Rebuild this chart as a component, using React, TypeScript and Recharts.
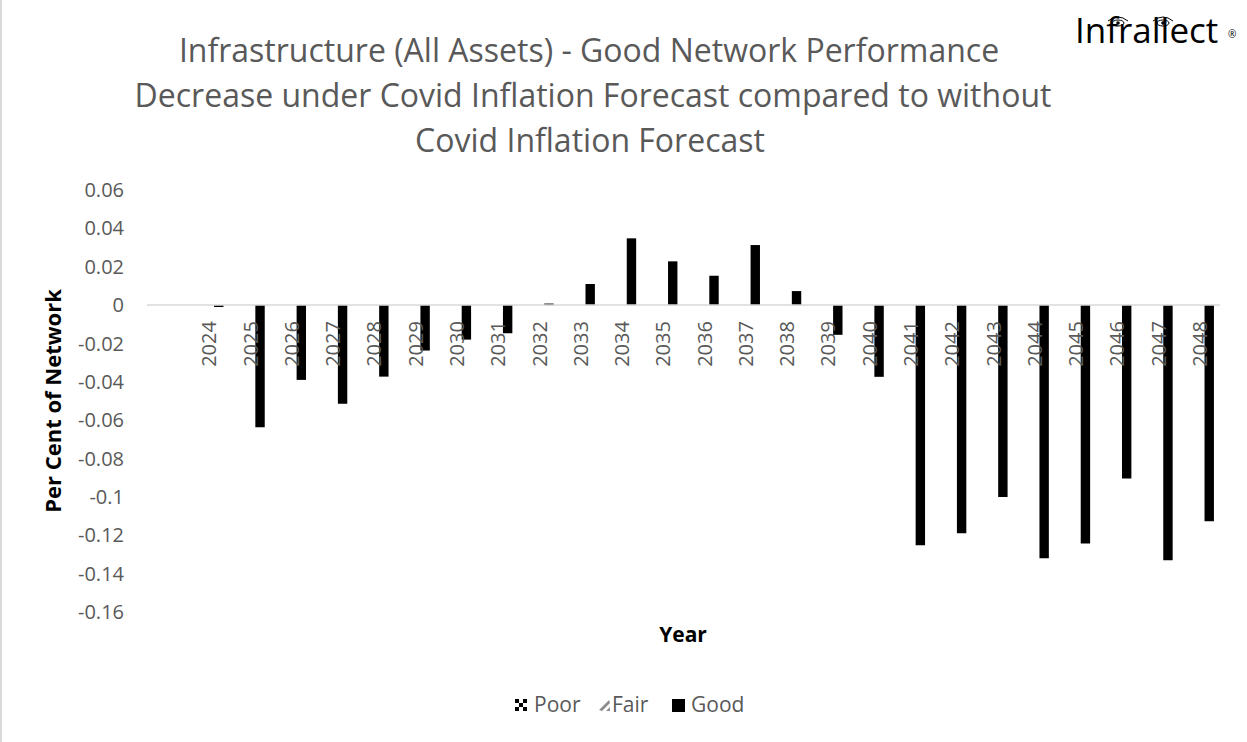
import React from 'react';
import { BarChart, Bar, XAxis, YAxis, ReferenceLine } from 'recharts';

const years = ['', '2024', '2025', '2026', '2027', '2028', '2029', '2030', '2031', '2032', '2033', '2034', '2035', '2036', '2037', '2038', '2039', '2040', '2041', '2042', '2043', '2044', '2045', '2046', '2047', '2048'];
const poor = [null, null, null, null, null, null, null, null, null, null, null, null, null, null, null, null, null, null, null, null, null, null, null, null, null, null];
const fair = [null, null, null, null, null, null, null, null, null, null, null, null, null, null, null, null, null, null, null, null, null, null, null, null, null, null];
const good = [null, -0.001, -0.0637, -0.039, -0.0514, -0.0373, -0.0237, -0.018, -0.0147, 0.0008, 0.011, 0.0348, 0.0228, 0.0153, 0.0313, 0.0073, -0.0155, -0.0374, -0.1252, -0.119, -0.1, -0.132, -0.1243, -0.0904, -0.133, -0.1127];
const yTicks = [0.06, 0.04, 0.02, 0, -0.02, -0.04, -0.06, -0.08, -0.1, -0.12, -0.14, -0.16];
const titleLines = [
  'Infrastructure (All Assets) - Good Network Performance',
  'Decrease under Covid Inflation Forecast compared to without',
  'Covid Inflation Forecast',
];

const data = years.map((year, i) => ({ year, Poor: poor[i], Fair: fair[i], Good: good[i] }));

const W = 1247;
const H = 742;
const PLOT_TOP = 190;
const PLOT_BOTTOM = 612;
const PLOT_LEFT = 147;
const PLOT_RIGHT = 1220;
const Y_MIN = -0.16;
const Y_MAX = 0.06;
const ZERO_Y = PLOT_TOP + ((Y_MAX - 0) / (Y_MAX - Y_MIN)) * (PLOT_BOTTOM - PLOT_TOP);
const FONT = '"Open Sans", sans-serif';
const GREY = '#595959';

const YearTick = ({ x, payload }: any) => {
  const y = ZERO_Y + 16;
  return (
    <text x={x} y={y} transform={`rotate(-90 ${x} ${y})`} textAnchor="end" dominantBaseline="central"
      fontFamily={FONT} fontSize={20} fill={GREY}>
      {payload.value}
    </text>
  );
};

const fmt = (v: number) => String(Number(v.toFixed(2)));

export default function App() {
  return (
    <div style={{ position: 'fixed', left: 0, top: 0, width: W, height: H, background: '#fff', overflow: 'hidden' }}>
      <BarChart width={W} height={H} data={data} barGap={0} barSize={9.4}
        margin={{ top: PLOT_TOP, right: W - PLOT_RIGHT, bottom: H - PLOT_BOTTOM - 30, left: PLOT_LEFT - 80 }}>
        <XAxis dataKey="year" height={30} axisLine={false} tickLine={false} interval={0} tick={<YearTick />} />
        <YAxis domain={[Y_MIN, Y_MAX]} ticks={yTicks} width={80} axisLine={false} tickLine={false}
          tickSize={0} tickMargin={23} tickFormatter={fmt} interval={0}
          tick={{ fontFamily: FONT, fontSize: 20, fill: GREY }} />
        <ReferenceLine y={0} stroke="#d9d9d9" strokeWidth={1.5} />
        <Bar dataKey="Poor" fill="#000" isAnimationActive={false} />
        <Bar dataKey="Fair" fill="#808080" isAnimationActive={false} />
        <Bar dataKey="Good" fill="#000" isAnimationActive={false} />
      </BarChart>

      <svg width={W} height={H} style={{ position: 'absolute', left: 0, top: 0, pointerEvents: 'none' }}>
        <defs>
          <pattern id="checker" x="515" y="699" width="8" height="8" patternUnits="userSpaceOnUse">
            <rect width="8" height="8" fill="#fff" />
            <rect width="4" height="4" fill="#000" />
            <rect x="4" y="4" width="4" height="4" fill="#000" />
          </pattern>
        </defs>
        <line x1={1} y1={0} x2={1} y2={H} stroke="#d9d9d9" strokeWidth={2} />

        {titleLines.map((t, i) => (
          <text key={i} x={[589, 593, 590][i]} y={[62, 107, 152][i]} textAnchor="middle"
            fontFamily={FONT} fontSize={32} fill={GREY}>{t}</text>
        ))}

        <text x={1075} y={43} fontFamily={FONT} fontSize={35} fill="#000">Infrallect</text>
        <text x={1228} y={38} fontFamily={FONT} fontSize={10} fill="#000">®</text>
        <g stroke="#000" strokeWidth={1} fill="none">
          <path d="M1108 21 Q1118 13 1128 21" />
          <ellipse cx={1118} cy={23} rx={6} ry={3} />
          <path d="M1153 21 Q1163 13 1173 21" />
          <ellipse cx={1163} cy={23} rx={6} ry={3} />
        </g>
        <circle cx={1118} cy={23} r={1.8} fill="#000" />
        <circle cx={1163} cy={23} r={1.8} fill="#000" />

        <text x={52} y={(PLOT_TOP + PLOT_BOTTOM) / 2} transform={`rotate(-90 52 ${(PLOT_TOP + PLOT_BOTTOM) / 2})`}
          textAnchor="middle" dominantBaseline="central" fontFamily={FONT} fontSize={22} fontWeight="bold" fill="#000">
          Per Cent of Network
        </text>
        <text x={683} y={642} textAnchor="middle" fontFamily={FONT} fontSize={21} fontWeight="bold" fill="#000">Year</text>

        <rect x={515} y={699} width={12} height={12} fill="url(#checker)" />
        <text x={534} y={712} fontFamily={FONT} fontSize={21} fill={GREY}>Poor</text>
        <path d="M599 710 L609 700 L610 703 L602 711 Z M606 711 L610 707 L610 711 Z" fill="#8c8c8c" />
        <text x={612} y={712} fontFamily={FONT} fontSize={21} fill={GREY}>Fair</text>
        <rect x={672} y={699} width={13} height={13} fill="#000" />
        <text x={691} y={712} fontFamily={FONT} fontSize={21} fill={GREY}>Good</text>
      </svg>
    </div>
  );
}
